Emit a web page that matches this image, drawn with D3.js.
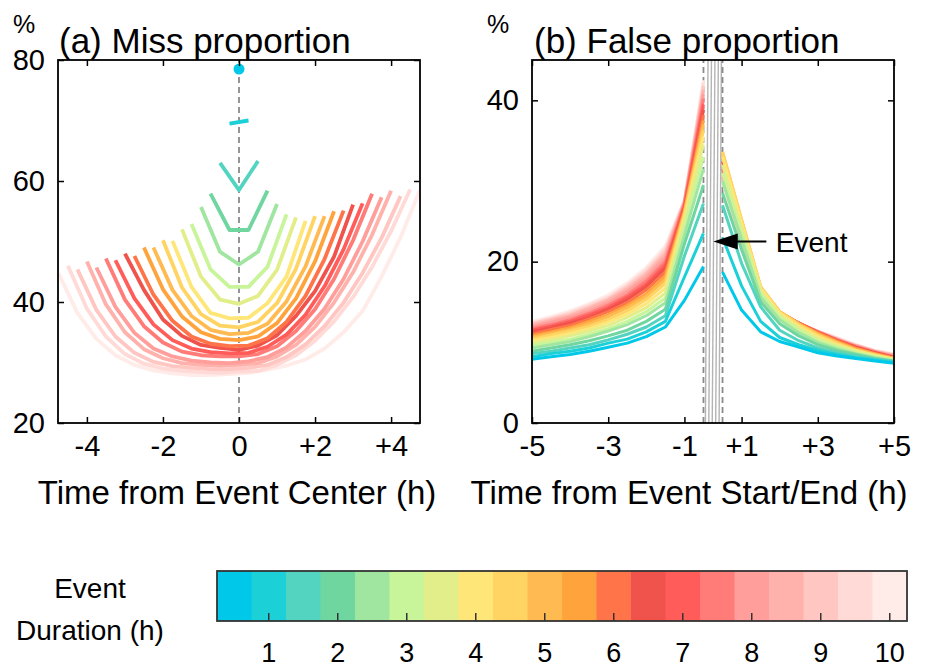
<!DOCTYPE html>
<html>
<head>
<meta charset="utf-8">
<title>miss and false proportion</title>
<script src="https://cdn.jsdelivr.net/npm/d3@7"></script>
<style>
  body { margin: 0; background: #fff; }
  text { font-family: "Liberation Sans", Arial, Helvetica, sans-serif; fill: #000; }
</style>
</head>
<body>
<script>

//Event durations (h) and their colours
var durations = [0.5, 1, 1.5, 2, 2.5, 3, 3.5, 4, 4.5, 5, 5.5, 6, 6.5, 7, 7.5, 8, 8.5, 9, 9.5, 10];
var colors = ["#00C8E8", "#1CD0D8", "#52D4C0", "#70D6A0", "#A0E6A0", "#C8F59A", "#E2EE8A",
              "#FFE678", "#FFD462", "#FFBB52", "#FFA43C", "#FF7448", "#F0524C", "#FF5C5A",
              "#FF7C78", "#FF9E9A", "#FFB2AC", "#FFC6C2", "#FFDAD6", "#FFEBE8"];

//(a) miss proportion (%), one list per duration, half-hour steps centred on the event
var missValues = [
  [78.5],
  [69.5, 70.0],
  [63.0, 58.5, 63.3],
  [57.9, 51.9, 51.9, 58.4],
  [55.7, 48.3, 46.2, 48.3, 56.2],
  [52.9, 45.4, 42.5, 42.5, 45.8, 54.5],
  [52.0, 44.2, 40.4, 39.7, 41.0, 45.3, 54.0],
  [50.1, 42.5, 38.2, 37.3, 37.4, 39.8, 44.2, 53.4],
  [50.2, 42.4, 38.0, 36.1, 35.8, 36.7, 39.8, 45.5, 54.2],
  [49.0, 42.0, 37.7, 35.4, 34.7, 34.9, 36.4, 40.1, 45.9, 54.2],
  [49.0, 42.1, 37.6, 35.0, 33.9, 33.7, 34.3, 36.5, 40.6, 46.7, 55.0],
  [47.6, 41.2, 36.9, 34.3, 33.1, 32.7, 32.8, 34.0, 36.7, 41.0, 47.1, 55.1],
  [48.0, 42.0, 37.1, 34.4, 32.9, 32.4, 32.1, 32.8, 34.5, 37.7, 41.8, 47.5, 56.1],
  [46.9, 40.6, 36.3, 33.7, 32.3, 31.7, 31.5, 31.6, 32.6, 34.6, 37.9, 42.6, 48.7, 56.3],
  [47.2, 40.4, 36.0, 33.3, 31.8, 31.2, 31.0, 31.0, 31.4, 32.7, 35.2, 38.8, 43.8, 50.2, 57.9],
  [45.7, 39.2, 34.9, 32.3, 31.0, 30.3, 30.0, 29.9, 30.2, 30.9, 32.5, 35.2, 38.9, 43.8, 50.0, 57.3],
  [46.7, 39.6, 35.0, 32.2, 30.7, 29.9, 29.6, 29.5, 29.6, 29.9, 31.0, 32.9, 35.9, 39.9, 44.9, 51.1, 58.4],
  [45.4, 38.7, 34.3, 31.6, 30.1, 29.4, 29.1, 28.9, 28.9, 29.1, 29.6, 30.9, 33.0, 36.0, 39.9, 44.8, 50.6, 57.5],
  [46.0, 38.9, 34.3, 31.4, 29.8, 29.0, 28.6, 28.4, 28.3, 28.5, 28.6, 29.6, 31.2, 33.6, 36.8, 40.8, 45.8, 51.7, 58.6],
  [44.8, 38.2, 33.9, 31.2, 29.6, 28.7, 28.2, 27.9, 27.9, 28.1, 28.3, 28.8, 29.5, 30.5, 32.3, 35.0, 38.5, 44.2, 50.7, 58.4]
];

//(b) false proportion (%), before event start and after event end
var beforeHours = [-5, -4.5, -4, -3.5, -3, -2.5, -2, -1.5, -1, -0.5];
var afterHours = [0.5, 1, 1.5, 2, 2.5, 3, 3.5, 4, 4.5, 5];

var falseBefore = [
  [7.9, 8.2, 8.5, 8.9, 9.4, 9.9, 10.7, 11.9, 15.2, 19.4],
  [8.2, 8.6, 8.9, 9.3, 9.9, 10.4, 11.3, 12.6, 18.1, 23.5],
  [8.6, 8.9, 9.3, 9.7, 10.3, 11.0, 11.9, 13.3, 20.7, 27.2],
  [8.9, 9.3, 9.7, 10.2, 10.8, 11.5, 12.6, 14.1, 22.2, 29.5],
  [9.3, 9.7, 10.1, 10.7, 11.4, 12.2, 13.3, 14.9, 23.3, 31.5],
  [9.6, 10.0, 10.4, 11.0, 11.7, 12.6, 13.8, 15.5, 24.2, 33.0],
  [9.9, 10.3, 10.8, 11.4, 12.1, 13.1, 14.3, 16.1, 25.0, 34.5],
  [10.2, 10.6, 11.1, 11.7, 12.5, 13.5, 14.8, 16.7, 25.5, 35.5],
  [10.4, 10.9, 11.4, 12.0, 12.8, 13.9, 15.3, 17.3, 25.8, 36.3],
  [10.6, 11.1, 11.6, 12.3, 13.2, 14.3, 15.7, 17.8, 26.1, 37.0],
  [10.8, 11.3, 11.8, 12.6, 13.4, 14.6, 16.0, 18.2, 26.2, 37.5],
  [11.0, 11.6, 12.1, 12.9, 13.8, 14.9, 16.5, 18.7, 26.5, 38.2],
  [11.3, 11.8, 12.4, 13.1, 14.1, 15.3, 16.9, 19.2, 26.6, 38.8],
  [11.5, 12.0, 12.6, 13.4, 14.3, 15.6, 17.2, 19.6, 26.9, 39.5],
  [11.7, 12.2, 12.8, 13.6, 14.6, 15.9, 17.6, 20.0, 27.2, 40.2],
  [11.9, 12.5, 13.1, 13.9, 14.9, 16.3, 18.0, 20.5, 27.3, 40.8],
  [12.1, 12.7, 13.3, 14.2, 15.2, 16.6, 18.4, 20.9, 27.4, 41.3],
  [12.3, 12.9, 13.5, 14.4, 15.4, 16.9, 18.7, 21.3, 27.5, 41.8],
  [12.4, 13.0, 13.7, 14.6, 15.6, 17.1, 19.0, 21.6, 27.6, 42.2],
  [12.6, 13.2, 13.9, 14.8, 15.9, 17.4, 19.3, 22.0, 27.6, 42.5]
];

var falseAfter = [
  [18.7, 14.0, 11.3, 10.1, 9.4, 8.7, 8.3, 8.0, 7.7, 7.4],
  [23.0, 17.0, 12.6, 10.6, 9.7, 9.0, 8.5, 8.1, 7.8, 7.5],
  [27.0, 19.8, 14.4, 11.5, 10.2, 9.3, 8.7, 8.3, 7.9, 7.6],
  [28.5, 21.5, 15.0, 12.3, 10.8, 9.7, 9.0, 8.5, 8.0, 7.7],
  [30.0, 22.8, 15.6, 12.8, 11.2, 10.0, 9.2, 8.6, 8.1, 7.7],
  [31.0, 23.5, 16.0, 13.1, 11.5, 10.2, 9.4, 8.7, 8.2, 7.8],
  [32.0, 24.2, 16.4, 13.4, 11.8, 10.5, 9.6, 8.9, 8.3, 7.8],
  [33.0, 24.8, 16.7, 13.6, 12.0, 10.7, 9.7, 9.0, 8.4, 7.9],
  [33.6, 25.2, 16.9, 13.8, 12.2, 10.9, 9.9, 9.0, 8.4, 7.9],
  [33.6, 25.2, 16.9, 13.8, 12.3, 11.0, 10.0, 9.1, 8.5, 8.0],
  [33.4, 25.0, 16.8, 13.8, 12.3, 11.1, 10.1, 9.2, 8.6, 8.0],
  [33.0, 24.8, 16.7, 13.8, 12.4, 11.2, 10.2, 9.3, 8.6, 8.1],
  [32.4, 24.2, 16.3, 13.7, 12.4, 11.2, 10.2, 9.4, 8.7, 8.1],
  [32.0, 23.8, 16.0, 13.6, 12.4, 11.3, 10.3, 9.4, 8.7, 8.2],
  [31.5, 23.4, 15.8, 13.5, 12.4, 11.3, 10.3, 9.5, 8.8, 8.2],
  [31.0, 23.0, 15.6, 13.4, 12.3, 11.3, 10.4, 9.5, 8.8, 8.3],
  [30.6, 22.7, 15.4, 13.3, 12.3, 11.3, 10.4, 9.6, 8.9, 8.4],
  [30.3, 22.5, 15.3, 13.3, 12.3, 11.4, 10.5, 9.6, 8.9, 8.4],
  [30.1, 22.3, 15.2, 13.2, 12.3, 11.4, 10.5, 9.7, 9.0, 8.5],
  [30.0, 22.2, 15.1, 13.2, 12.3, 11.4, 10.6, 9.7, 9.0, 8.6]
];

//Tick values and labels
var aTicksX = [-4, -2, 0, 2, 4];
var aTickLabelsX = ["-4", "-2", "0", "+2", "+4"];
var aTicksY = [20, 40, 60, 80];
var bTicksX = [-5, -3, -1, 0.5, 2.5, 4.5];   //axis units; the event itself spans -0.5..0
var bTickLabelsX = ["-5", "-3", "-1", "+1", "+3", "+5"];
var bTicksY = [0, 20, 40];
var cbTicks = [1, 2, 3, 4, 5, 6, 7, 8, 9, 10];

//Width and height
var w = 928;
var h = 669;

var svg = d3.select("body")
            .append("svg")
            .attr("width", w)
            .attr("height", h);

var boxA = {left: 58, right: 420, top: 60, bottom: 423};
var boxB = {left: 532, right: 894, top: 60, bottom: 423};

//Scales
var xA = d3.scaleLinear().domain([-4.76, 4.76]).range([boxA.left, boxA.right]);
var yA = d3.scaleLinear().domain([20, 80]).range([boxA.bottom, boxA.top]);
var xB = d3.scaleLinear().domain([-5, 4.5]).range([boxB.left, boxB.right]);
var yB = d3.scaleLinear().domain([0, 45]).range([boxB.bottom, boxB.top]);

var tickFont = 29;
var labelFont = 33;
var titleFont = 35;

//Draw MATLAB style box with inward ticks on all four sides
function drawBox(box, x, y, xTicks, xLabels, yTicks) {
  var g = svg.append("g");

  g.append("g")
   .attr("transform", "translate(0," + box.bottom + ")")
   .call(d3.axisBottom(x).tickValues(xTicks).tickSize(-6).tickSizeOuter(0).tickPadding(12)
           .tickFormat(function(d, i) { return xLabels[i]; }));
  g.append("g")
   .attr("transform", "translate(0," + box.top + ")")
   .call(d3.axisTop(x).tickValues(xTicks).tickSize(-6).tickSizeOuter(0).tickFormat(""));
  g.append("g")
   .attr("transform", "translate(" + box.left + ",0)")
   .call(d3.axisLeft(y).tickValues(yTicks).tickSize(-6).tickSizeOuter(0).tickPadding(13));
  g.append("g")
   .attr("transform", "translate(" + box.right + ",0)")
   .call(d3.axisRight(y).tickValues(yTicks).tickSize(-6).tickSizeOuter(0).tickFormat(""));

  g.selectAll(".domain").remove();
  g.selectAll(".tick line").attr("stroke", "#000").attr("stroke-width", 1.5);
  g.selectAll("text")
   .attr("font-family", "'Liberation Sans', Arial, sans-serif")
   .attr("font-size", tickFont)
   .attr("fill", "#000");

  g.append("rect")
   .attr("x", box.left)
   .attr("y", box.top)
   .attr("width", box.right - box.left)
   .attr("height", box.bottom - box.top)
   .attr("fill", "none")
   .attr("stroke", "#000")
   .attr("stroke-width", 1.8);
}

//----- (a) Miss proportion -----
var missLine = d3.line()
  .x(function(d) { return xA(d[0]); })
  .y(function(d) { return yA(d[1]); });

var missSeries = durations.map(function(d, k) {
  return missValues[k].map(function(v, i) {
    return [-(d - 0.5) / 2 + 0.5 * i, v];
  });
});

//Centre line
svg.append("line")
   .attr("x1", xA(0)).attr("x2", xA(0))
   .attr("y1", yA(20)).attr("y2", yA(80))
   .attr("stroke", "#8a8a8a")
   .attr("stroke-width", 1.8)
   .attr("stroke-dasharray", "6,4");

//Longest events first so the short ones sit on top
for (var k = durations.length - 1; k >= 1; k--) {
  svg.append("path")
     .datum(missSeries[k])
     .attr("d", missLine)
     .attr("fill", "none")
     .attr("stroke", colors[k])
     .attr("stroke-width", 3.8)
     .attr("stroke-linejoin", "round");
}

svg.append("circle")
   .attr("cx", xA(missSeries[0][0][0]))
   .attr("cy", yA(missSeries[0][0][1]))
   .attr("r", 5.5)
   .attr("fill", colors[0]);

drawBox(boxA, xA, yA, aTicksX, aTickLabelsX, aTicksY);

//----- (b) False proportion -----
var falseLine = d3.line()
  .x(function(d) { return xB(d[0]); })
  .y(function(d) { return yB(d[1]); });

//Event band: dashed edges with grey hatch lines
var hatchBottom = [-0.45, -0.36, -0.27, -0.18, -0.09];
var hatchTop = [-0.38, -0.29, -0.20, -0.11, -0.03];
hatchBottom.forEach(function(b, i) {
  svg.append("line")
     .attr("x1", xB(b)).attr("y1", yB(0))
     .attr("x2", xB(hatchTop[i])).attr("y2", yB(45))
     .attr("stroke", "#b4b4b4")
     .attr("stroke-width", 1.4);
});
[-0.5, 0].forEach(function(e) {
  svg.append("line")
     .attr("x1", xB(e)).attr("x2", xB(e))
     .attr("y1", yB(0)).attr("y2", yB(45))
     .attr("stroke", "#8a8a8a")
     .attr("stroke-width", 1.8)
     .attr("stroke-dasharray", "6,4");
});

for (var k = durations.length - 1; k >= 0; k--) {
  var before = beforeHours.map(function(t, i) { return [t, falseBefore[k][i]]; });
  var after = afterHours.map(function(t, i) { return [t - 0.5, falseAfter[k][i]]; });
  [before, after].forEach(function(seg) {
    svg.append("path")
       .datum(seg)
       .attr("d", falseLine)
       .attr("fill", "none")
       .attr("stroke", colors[k])
       .attr("stroke-width", 3)
       .attr("stroke-linejoin", "round");
  });
}

//"Event" arrow
var arrowY = yB(22.5);
svg.append("line")
   .attr("x1", xB(1.15)).attr("x2", xB(0.3))
   .attr("y1", arrowY).attr("y2", arrowY)
   .attr("stroke", "#000")
   .attr("stroke-width", 1.8);
svg.append("path")
   .attr("d", "M" + xB(-0.24) + "," + arrowY +
              "L" + xB(0.4) + "," + (arrowY - 8) +
              "L" + xB(0.4) + "," + (arrowY + 8) + "Z")
   .attr("fill", "#000");
svg.append("text")
   .attr("x", xB(1.4))
   .attr("y", arrowY + 10)
   .attr("font-size", 28)
   .text("Event");

drawBox(boxB, xB, yB, bTicksX, bTickLabelsX, bTicksY);

//Titles and axis labels
svg.append("text").attr("x", 24).attr("y", 33).attr("text-anchor", "middle").attr("font-size", 25).text("%");
svg.append("text").attr("x", 498).attr("y", 33).attr("text-anchor", "middle").attr("font-size", 25).text("%");
svg.append("text").attr("x", 59).attr("y", 53).attr("font-size", titleFont).text("(a) Miss proportion");
svg.append("text").attr("x", 534).attr("y", 53).attr("font-size", titleFont).text("(b) False proportion");
svg.append("text").attr("x", 237).attr("y", 504).attr("text-anchor", "middle")
   .attr("font-size", labelFont).text("Time from Event Center (h)");
svg.append("text").attr("x", 689).attr("y", 504).attr("text-anchor", "middle")
   .attr("font-size", labelFont).text("Time from Event Start/End (h)");

//----- Colour bar -----
var cb = {left: 217, right: 907, top: 571, bottom: 621};
var cbX = d3.scaleLinear().domain([0.25, 10.25]).range([cb.left, cb.right]);

svg.selectAll(".cell")
   .data(durations)
   .enter()
   .append("rect")
   .attr("class", "cell")
   .attr("x", function(d) { return cbX(d - 0.25); })
   .attr("y", cb.top)
   .attr("width", function(d) { return cbX(d + 0.25) - cbX(d - 0.25) + 0.5; })
   .attr("height", cb.bottom - cb.top)
   .attr("fill", function(d, i) { return colors[i]; });

svg.selectAll(".cbtick")
   .data(cbTicks)
   .enter()
   .append("line")
   .attr("class", "cbtick")
   .attr("x1", function(d) { return cbX(d); })
   .attr("x2", function(d) { return cbX(d); })
   .attr("y1", cb.bottom)
   .attr("y2", cb.bottom - 8)
   .attr("stroke", "#333")
   .attr("stroke-width", 1.5);

svg.append("rect")
   .attr("x", cb.left).attr("y", cb.top)
   .attr("width", cb.right - cb.left).attr("height", cb.bottom - cb.top)
   .attr("fill", "none")
   .attr("stroke", "#333")
   .attr("stroke-width", 1.8);

svg.selectAll(".cblabel")
   .data(cbTicks)
   .enter()
   .append("text")
   .attr("class", "cblabel")
   .attr("x", function(d) { return cbX(d); })
   .attr("y", 662)
   .attr("text-anchor", "middle")
   .attr("font-size", 27)
   .text(function(d) { return d; });

svg.append("text").attr("x", 90).attr("y", 598).attr("text-anchor", "middle").attr("font-size", 28).text("Event");
svg.append("text").attr("x", 90).attr("y", 640).attr("text-anchor", "middle").attr("font-size", 28).text("Duration (h)");

</script>
</body>
</html>
